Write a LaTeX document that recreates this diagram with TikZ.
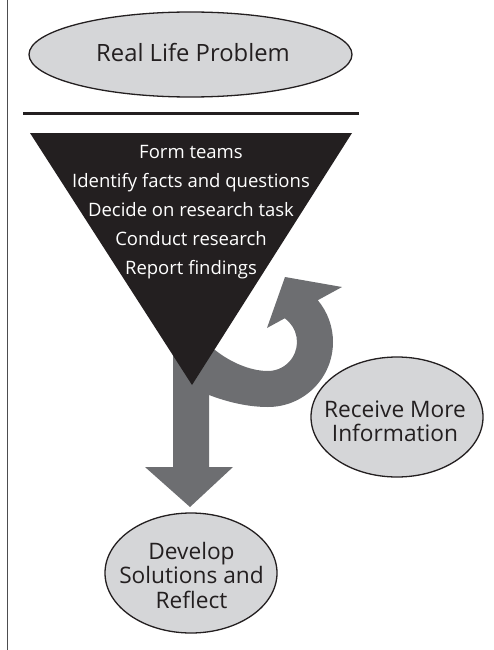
\documentclass[tikz,border=0pt]{standalone}
\usepackage{fontspec}
\setmainfont{Open Sans}
\usetikzlibrary{shapes.geometric}
\definecolor{ink}{HTML}{231F20}
\definecolor{arrowgray}{HTML}{6D6E71}
\definecolor{ellfill}{HTML}{D5D6D8}
\definecolor{rule}{HTML}{4D4D4F}
\tikzset{
  ellbox/.style={draw=ink, line width=1.3pt, fill=ellfill},
  elltext/.style={text=ink, align=center, inner sep=0pt, font=\fontsize{22.7}{24.5}\selectfont},
  tritext/.style={text=white, align=center, inner sep=0pt, font=\fontsize{18.5}{29}\selectfont},
  grayshape/.style={fill=arrowgray, draw=none},
}
\begin{document}
\begin{tikzpicture}[x=1pt, y=-1pt]
\useasboundingbox (0,0) rectangle (494,650);
% left rule
\draw[rule, line width=1.6pt] (7.5,0) -- (7.5,650);
% top problem ellipse
\draw[ellbox] (190.5,54.5) ellipse [x radius=161.5pt, y radius=42.5pt];
\node[elltext, font=\fontsize{23.8}{26}\selectfont] (problem) at (193,53) {Real Life Problem};
% horizontal rule
\draw[ink, line width=3pt] (23,114) -- (359,114);
% gray down arrow
\fill[grayshape] (173,330) -- (209,330) -- (209,467) -- (233,467) -- (190,507) -- (145,467) -- (173,467) -- cycle;
% gray hook arrow
\fill[grayshape] (195,392) -- (209,395) .. controls (230,403) and (250,407) .. (268,407)
  arc[start angle=270, end angle=400, radius=65pt]
  -- (342,287) -- (285,277) -- (267,328) -- (284.7,318.3)
  arc[start angle=54.8, end angle=-90, radius=29pt]
  .. controls (250,371) and (230,362) .. (215,350) -- (195,340) -- cycle;
% black funnel triangle
\fill[ink] (30,133) -- (352,133) -- (192,385) -- cycle;
\node[tritext] (steps) at (191,212) {Form teams\\Identify facts and questions\\Decide on research task\\Conduct research\\Report findings};
% receive more information
\draw[ellbox] (397,417) ellipse [x radius=86pt, y radius=60pt];
\node[elltext, font=\fontsize{22.7}{24}\selectfont] (receive) at (395,421) {Receive More\\Information};
% develop solutions
\draw[ellbox] (191,573) ellipse [x radius=86pt, y radius=60pt];
\node[elltext] (develop) at (191.5,575) {Develop\\Solutions and\\Reflect};
\end{tikzpicture}
\end{document}
